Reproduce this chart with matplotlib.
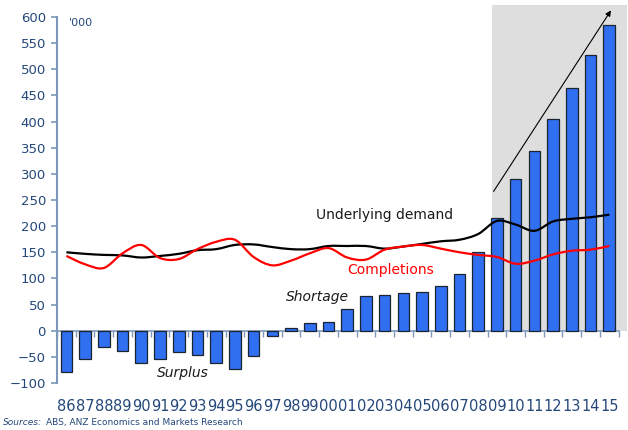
import matplotlib
matplotlib.use('Agg')
import matplotlib.pyplot as plt
import numpy as np
from matplotlib.path import Path
from matplotlib.patches import PathPatch, Rectangle

# data ('000 dwellings), years 1986-2015
years = ['86', '87', '88', '89', '90', '91', '92', '93', '94', '95', '96', '97', '98', '99',
         '00', '01', '02', '03', '04', '05', '06', '07', '08', '09', '10', '11', '12', '13', '14', '15']
shortage = [-79, -54, -31, -39, -62, -54, -41, -47, -62, -73, -49, -11, 5, 15,
            16, 41, 67, 69, 72, 74, 86, 109, 150, 216, 290, 344, 405, 465, 527, 585]
demand = [150, 147, 145, 144, 140, 143, 147, 154, 156, 164, 165, 160, 156, 156,
          162, 162, 162, 157, 161, 166, 171, 174, 185, 210, 203, 191, 209, 214, 217, 222]
completions = [143, 127, 120, 148, 164, 139, 137, 156, 170, 174, 141, 125, 134, 148,
               158, 140, 136, 155, 161, 164, 157, 150, 145, 141, 128, 134, 146, 153, 155, 162]

yticks = list(range(-100, 601, 50))

TICK_COL = '#24487a'
SPINE_COL = '#7d98b8'
BAR_COL = '#2f6ff0'

plt.rcParams['font.family'] = 'DejaVu Sans'


def smooth_path(x, y):
    # excel-style smoothed line drawn as cubic bezier segments
    pts = np.column_stack([x, y]).astype(float)
    n = len(pts)
    verts = [pts[0]]
    codes = [Path.MOVETO]
    for i in range(n - 1):
        p0 = pts[i - 1] if i > 0 else pts[i]
        p1 = pts[i]
        p2 = pts[i + 1]
        p3 = pts[i + 2] if i + 2 < n else pts[i + 1]
        c1 = p1 + (p2 - p0) / 6.0
        c2 = p2 - (p3 - p1) / 6.0
        verts += [c1, c2, p2]
        codes += [Path.CURVE4] * 3
    return Path(verts, codes)


def main():
    fig = plt.figure(figsize=(6.28, 4.30), dpi=100)
    ax = fig.add_axes([0.0908, 0.1093, 0.8943, 0.8512])

    xs = np.arange(len(years))

    # shaded forecast region
    ax.add_patch(Rectangle((22.73, 0), 7.2, 623, facecolor='#dedede', edgecolor='none',
                           clip_on=False, zorder=0))

    ax.bar(xs, shortage, width=0.62, color=BAR_COL, edgecolor='#1c2430', linewidth=0.9, zorder=2)

    ax.add_patch(PathPatch(smooth_path(xs, demand), facecolor='none', edgecolor='black',
                           lw=1.6, zorder=3))
    ax.add_patch(PathPatch(smooth_path(xs, completions), facecolor='none', edgecolor='#ff0000',
                           lw=1.6, zorder=3))

    # trend arrow
    ax.annotate('', xy=(29.17, 617), xytext=(22.74, 262),
                arrowprops=dict(arrowstyle='-|>', color='black', lw=0.8, mutation_scale=8),
                annotation_clip=False, zorder=4)

    ax.text(17.0, 222, 'Underlying demand', ha='center', va='center', fontsize=10, color='#1a1a1a')
    ax.text(17.3, 117, 'Completions', ha='center', va='center', fontsize=10, color='#ff0000')
    ax.text(13.4, 65, 'Shortage', ha='center', va='center', fontsize=10, style='italic', color='#1a1a1a')
    ax.text(6.2, -80, 'Surplus', ha='center', va='center', fontsize=10, style='italic', color='#1a1a1a')
    ax.text(0.14, 599, "'000", ha='left', va='top', fontsize=8, color=TICK_COL)

    ax.set_xlim(-0.5, 29.5)
    ax.set_ylim(-100, 600)

    for s in ['top', 'right']:
        ax.spines[s].set_visible(False)
    ax.spines['left'].set_color(SPINE_COL)
    ax.spines['left'].set_linewidth(1.5)
    ax.spines['bottom'].set_position(('data', 0))
    ax.spines['bottom'].set_color(SPINE_COL)
    ax.spines['bottom'].set_linewidth(1.2)
    ax.spines['bottom'].set_zorder(1)

    ax.set_yticks(yticks)
    ax.tick_params(axis='y', colors=SPINE_COL, labelcolor=TICK_COL, labelsize=9.5,
                   length=4, width=1.2, pad=4)

    ax.set_xticks(xs)
    ax.set_xticklabels(years)
    ax.set_xticks(np.arange(-0.5, 30, 1), minor=True)
    ax.tick_params(axis='x', which='major', length=0, labelsize=10.5, labelcolor=TICK_COL, pad=49)
    ax.tick_params(axis='x', which='minor', length=4, width=1.0, color=SPINE_COL)

    fig.text(0.005, 0.008, 'Sources:', fontsize=6.5, style='italic', color=TICK_COL, ha='left', va='bottom')
    fig.text(0.073, 0.008, 'ABS, ANZ Economics and Markets Research', fontsize=6.5, color=TICK_COL,
             ha='left', va='bottom')

    fig.savefig('out.png', dpi=100)


if __name__ == '__main__':
    main()
